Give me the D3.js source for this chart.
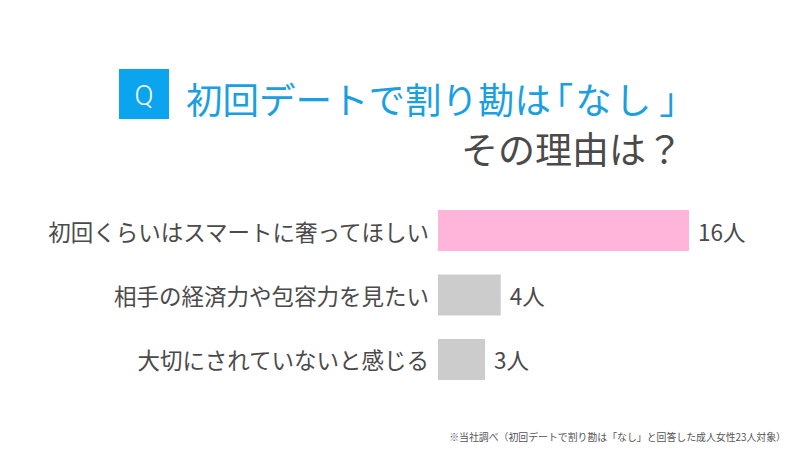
<!DOCTYPE html>
<html><head><meta charset="utf-8">
<script src="https://cdn.jsdelivr.net/npm/d3@7"></script>
<style>
html,body{margin:0;padding:0;background:#fff;}
svg{display:block;font-family:"Noto Sans CJK JP","Noto Sans",sans-serif;}
.half{font-feature-settings:"halt" 1;}
</style></head>
<body>
<svg id="chart" width="797" height="450"></svg>
<script>
const categories = ["初回くらいはスマートに奢ってほしい","相手の経済力や包容力を見たい","大切にされていないと感じる"];
const values = [16, 4, 3];
const valueLabels = ["16人","4人","3人"];
const barColors = ["#ffb5d9","#cccccc","#cccccc"];
const titleParts = ["初回デートで割り勘は","「","な","し","」"];
const titleLine2 = "その理由は？";
const footnote = "※当社調べ（初回デートで割り勘は「なし」と回答した成人女性23人対象）";

const svg = d3.select("#chart");
svg.append("rect").attr("width",797).attr("height",450).attr("fill","#fff");

// Title
svg.append("rect").attr("x",119).attr("y",69).attr("width",50).attr("height",50).attr("fill","#0aa5ee");
svg.append("text").attr("x",144).attr("y",95).attr("text-anchor","middle").attr("dominant-baseline","central")
  .attr("fill","#fff").attr("font-size",28).attr("font-weight",300).attr("font-family","Roboto, 'Noto Sans', sans-serif").text("Q");
const t1 = svg.append("text").attr("x",186).attr("y",98).attr("dominant-baseline","central")
  .attr("fill","#1aa0e2").attr("font-size",36.5);
const dxs = [0,4,2,3,8];
titleParts.forEach((p,i)=>t1.append("tspan").attr("class", (i===1||i===4)?"half":null).attr("dx",dxs[i]).text(p));
svg.append("text").attr("x",683).attr("y",148).attr("text-anchor","end").attr("dominant-baseline","central")
  .attr("fill","#4a4a4a").attr("font-size",37).text(titleLine2);

// Scales
const x = d3.scaleLinear().domain([0,16]).range([438,689]);
const y = d3.scaleBand().domain(categories).range([210,380]).paddingInner(0.364).paddingOuter(0);

const g = svg.append("g");
g.selectAll("rect.bar").data(values).join("rect").attr("class","bar")
  .attr("x",x(0)).attr("y",(d,i)=>y(categories[i]))
  .attr("width",d=>x(d)-x(0)).attr("height",y.bandwidth())
  .attr("fill",(d,i)=>barColors[i]);

g.selectAll("text.cat").data(categories).join("text").attr("class","cat")
  .attr("x",429).attr("y",d=>y(d)+y.bandwidth()/2).attr("text-anchor","end").attr("dominant-baseline","central")
  .attr("fill","#4a4a4a").attr("font-size",22.5).text(d=>d);

g.selectAll("text.val").data(values).join("text").attr("class","val")
  .attr("x",d=>x(d)+9).attr("y",(d,i)=>y(categories[i])+y.bandwidth()/2).attr("dominant-baseline","central")
  .attr("fill","#4a4a4a").attr("font-size",22.5).text((d,i)=>valueLabels[i]);

svg.append("text").attr("x",786).attr("y",437).attr("text-anchor","end").attr("dominant-baseline","central")
  .attr("fill","#555").attr("font-size",9.9).text(footnote);
</script>
</body></html>
